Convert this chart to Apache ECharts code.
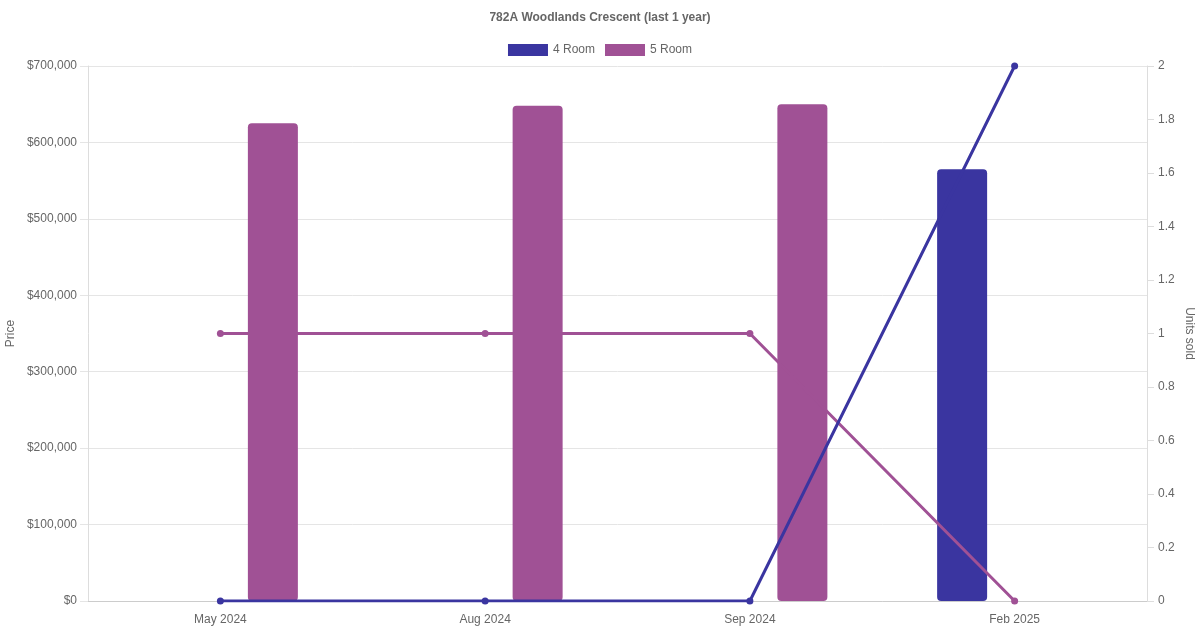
<!DOCTYPE html>
<html><head><meta charset="utf-8">
<script src="https://cdn.jsdelivr.net/npm/echarts@6/dist/echarts.min.js"></script>
<style>html,body{margin:0;padding:0;background:#fff}#c{width:1200px;height:630px}</style>
</head><body><div id="c"></div>
<script>
const categories = ['May 2024', 'Aug 2024', 'Sep 2024', 'Feb 2025'];
const price4Room = [null, null, null, 565000];
const price5Room = [625000, 648000, 650000, null];
const units4Room = [0, 0, 0, 2];
const units5Room = [1, 1, 1, 0];
const priceTicks = { min: 0, max: 700000, interval: 100000 };
const unitTicks = { min: 0, max: 2, interval: 0.2 };

const C4 = '#3a35a0', C5 = '#a05195';
const font = 'Liberation Sans, Arial, Helvetica, sans-serif';
const chart = echarts.init(document.getElementById('c'));
chart.setOption({
  animation: false,
  textStyle: { fontFamily: font },
  title: { text: '782A Woodlands Crescent (last 1 year)', left: 'center', top: 7,
    textStyle: { fontSize: 12, fontWeight: 'bold', color: '#666', fontFamily: font } },
  legend: { top: 39, left: 'center', icon: 'rect', itemWidth: 40, itemHeight: 12, itemGap: 10,
    textStyle: { fontSize: 12, color: '#666', fontFamily: font },
    data: ['4 Room', '5 Room'] },
  grid: { left: 88, right: 53, top: 66, bottom: 29, containLabel: false, outerBoundsMode: 'none' },
  xAxis: { type: 'category', data: categories,
    axisLine: { show: true, lineStyle: { color: '#ccc' } },
    axisTick: { show: false },
    axisLabel: { color: '#666', fontSize: 12, margin: 13, fontFamily: font },
    splitLine: { show: false } },
  yAxis: [
    { type: 'value', min: priceTicks.min, max: priceTicks.max, interval: priceTicks.interval,
      name: 'Price', nameLocation: 'middle', nameGap: 71, nameRotate: 90, nameMoveOverlap: false,
      nameTextStyle: { color: '#666', fontSize: 12, fontFamily: font },
      axisLine: { show: true, lineStyle: { color: '#ddd' } },
      axisTick: { show: true, length: 8, lineStyle: { color: '#e5e5e5' } },
      axisLabel: { color: '#666', fontSize: 12, margin: 11, fontFamily: font,
        formatter: v => '$' + v.toLocaleString('en-US') },
      splitLine: { lineStyle: { color: '#e5e5e5' } } },
    { type: 'value', min: unitTicks.min, max: unitTicks.max, interval: unitTicks.interval,
      name: 'Units sold', nameLocation: 'middle', nameGap: 36, nameRotate: -90, nameMoveOverlap: false,
      nameTextStyle: { color: '#666', fontSize: 12, fontFamily: font },
      axisLine: { show: true, lineStyle: { color: '#ddd' } },
      axisTick: { show: true, length: 7, lineStyle: { color: '#ddd' } },
      axisLabel: { color: '#666', fontSize: 12, margin: 11, fontFamily: font },
      splitLine: { show: false } }
  ],
  series: [
    { name: '4 Room', type: 'bar', data: price4Room, yAxisIndex: 0, barWidth: 50, barGap: '110%',
      itemStyle: { color: C4, borderRadius: 4 }, z: 2 },
    { name: '5 Room', type: 'bar', data: price5Room, yAxisIndex: 0, barWidth: 50, barGap: '110%',
      itemStyle: { color: C5, borderRadius: 4 }, z: 2 },
    { name: '4 Room', type: 'line', data: units4Room, yAxisIndex: 1, symbol: 'circle', symbolSize: 7,
      lineStyle: { color: C4, width: 3 }, itemStyle: { color: C4 }, z: 5 },
    { name: '5 Room', type: 'line', data: units5Room, yAxisIndex: 1, symbol: 'circle', symbolSize: 7,
      lineStyle: { color: C5, width: 3 }, itemStyle: { color: C5 }, z: 4 }
  ]
});
</script></body></html>
